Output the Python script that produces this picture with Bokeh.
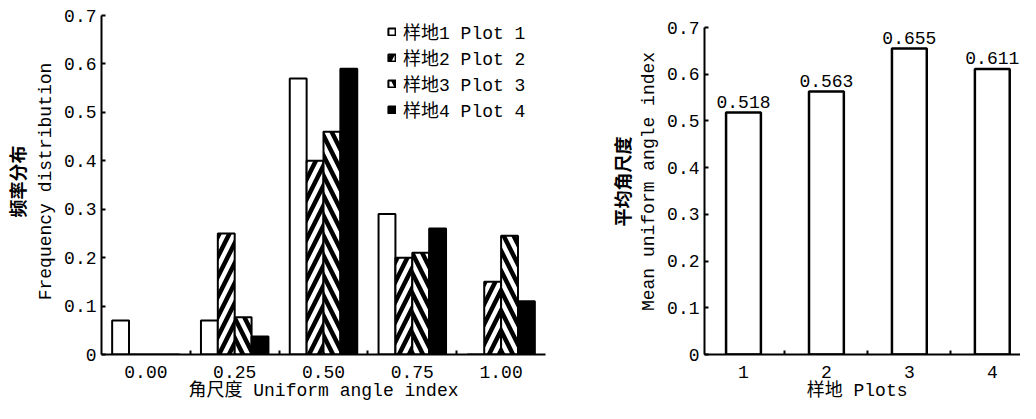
from bokeh.plotting import figure
from bokeh.layouts import row
from bokeh.models import Range1d, FixedTicker, LinearAxis, Legend, LegendItem, ColumnDataSource
from bokeh.transform import dodge
from bokeh.core.properties import value
from bokeh.embed import file_html
from bokeh.resources import INLINE

# ---------------- data ----------------
classes = ["0.00", "0.25", "0.50", "0.75", "1.00"]
plot1 = [0.07, 0.07, 0.57, 0.29, 0.0]
plot2 = [0.0, 0.25, 0.40, 0.20, 0.15]
plot3 = [0.0, 0.077, 0.46, 0.21, 0.245]
plot4 = [0.0, 0.037, 0.59, 0.26, 0.11]
series_labels = ["样地1 Plot 1", "样地2 Plot 2", "样地3 Plot 3", "样地4 Plot 4"]

plots = [1, 2, 3, 4]
mean_index = [0.518, 0.563, 0.655, 0.611]

y_ticks = [0, 0.1, 0.2, 0.3, 0.4, 0.5, 0.6, 0.7]
y_tick_labels = ["0", "0.1", "0.2", "0.3", "0.4", "0.5", "0.6", "0.7"]

FONT = "'Liberation Mono', 'Noto Sans CJK SC'"
CJK = "'Noto Sans CJK SC'"
FS = "18px"


def style_axes(p):
    p.xgrid.visible = False
    p.ygrid.visible = False
    p.outline_line_color = None
    p.background_fill_color = "white"
    p.border_fill_color = "white"
    for ax in p.xaxis + p.yaxis:
        ax.axis_line_color = "black"
        ax.axis_line_width = 2
        ax.major_label_text_font = FONT
        ax.major_label_text_font_size = FS
        ax.major_label_text_color = "black"
        ax.axis_label_text_font = FONT
        ax.axis_label_text_font_size = FS
        ax.axis_label_text_font_style = "normal"
        ax.axis_label_text_color = "black"


# ---------------- left chart ----------------
pos = list(range(len(classes)))
src = ColumnDataSource(dict(pos=pos, p1=plot1, p2=plot2, p3=plot3, p4=plot4))

p1 = figure(width=600, height=403, x_range=Range1d(-0.5, 4.5), y_range=Range1d(0, 0.7145),
            output_backend="svg", toolbar_location=None,
            min_border_left=95, min_border_right=55, min_border_top=8, min_border_bottom=40)

bw = 0.19
hatch = dict(hatch_color="black", hatch_weight=4.5, hatch_scale=20)
common = dict(width=bw, line_color="black", line_width=2, source=src)
r1 = p1.vbar(x=dodge("pos", -1.5 * bw), top="p1", fill_color="white", **common)
r2 = p1.vbar(x=dodge("pos", -0.5 * bw), top="p2", fill_color="white", hatch_pattern="/", **hatch, **common)
r3 = p1.vbar(x=dodge("pos", 0.5 * bw), top="p3", fill_color="white", hatch_pattern="\\", **hatch, **common)
r4 = p1.vbar(x=dodge("pos", 1.5 * bw), top="p4", fill_color="black", **common)

p1.xaxis.ticker = FixedTicker(ticks=pos, minor_ticks=[0.5, 1.5, 2.5, 3.5])
p1.xaxis.major_label_overrides = {i: c for i, c in zip(pos, classes)}
p1.xaxis.major_tick_line_color = None
p1.xaxis.minor_tick_in = 4
p1.xaxis.minor_tick_out = 0
p1.xaxis.minor_tick_line_width = 2
p1.xaxis.major_label_standoff = 5
p1.xaxis.axis_label_standoff = 0
p1.xaxis.axis_label = "角尺度 Uniform angle index"

p1.yaxis.ticker = FixedTicker(ticks=y_ticks)
p1.yaxis.bounds = (0, 0.7)
p1.yaxis.major_label_overrides = {t: l for t, l in zip(y_ticks, y_tick_labels)}
p1.yaxis.major_tick_in = 4
p1.yaxis.major_tick_out = 0
p1.yaxis.major_tick_line_width = 2
p1.yaxis.minor_tick_line_color = None
p1.yaxis.axis_label = "Frequency distribution"

ax_cn1 = LinearAxis(axis_label="频率分布", ticker=FixedTicker(ticks=[]),
                    major_tick_line_color=None, minor_tick_line_color=None,
                    major_label_text_font_size="0px", axis_label_standoff=4)
p1.add_layout(ax_cn1, "left")
style_axes(p1)
ax_cn1.axis_line_color = None
ax_cn1.axis_label_text_font = CJK
ax_cn1.axis_label_text_font_style = "bold"

legend = Legend(items=[LegendItem(label=series_labels[0], renderers=[r1]),
                       LegendItem(label=series_labels[1], renderers=[r2]),
                       LegendItem(label=series_labels[2], renderers=[r3]),
                       LegendItem(label=series_labels[3], renderers=[r4])],
                location=(286, 232), margin=0, padding=0, spacing=0,
                glyph_width=9, glyph_height=9, label_height=20, label_standoff=7,
                label_text_font=FONT, label_text_font_size=FS, label_text_color="black",
                background_fill_alpha=0, border_line_color=None)
p1.add_layout(legend)

# ---------------- right chart ----------------
src2 = ColumnDataSource(dict(x=plots, y=mean_index, lab=[f"{v:.3f}" for v in mean_index]))

p2 = figure(width=420, height=403, x_range=Range1d(0.53, 4.34), y_range=Range1d(0, 0.7408),
            output_backend="svg", toolbar_location=None,
            min_border_left=104, min_border_right=0, min_border_top=8, min_border_bottom=40)
p2.vbar(x="x", top="y", width=0.42, fill_color="white", line_color="black", line_width=2.5, source=src2)
p2.text(x="x", y="y", text="lab", text_align="center", text_baseline="bottom", y_offset=-5,
        text_font=value(FONT), text_font_size=FS, text_color="black", source=src2)

p2.xaxis.ticker = FixedTicker(ticks=plots, minor_ticks=[1.5, 2.5, 3.5])
p2.xaxis.major_tick_line_color = None
p2.xaxis.minor_tick_in = 4
p2.xaxis.minor_tick_out = 0
p2.xaxis.minor_tick_line_width = 2
p2.xaxis.major_label_standoff = 5
p2.xaxis.axis_label_standoff = 0
p2.xaxis.axis_label = "样地  Plots"

p2.yaxis.ticker = FixedTicker(ticks=y_ticks)
p2.yaxis.bounds = (0, 0.7)
p2.yaxis.major_label_overrides = {t: l for t, l in zip(y_ticks, y_tick_labels)}
p2.yaxis.major_tick_in = 4
p2.yaxis.major_tick_out = 0
p2.yaxis.major_tick_line_width = 2
p2.yaxis.minor_tick_line_color = None
p2.yaxis.axis_label = "Mean uniform angle index"

ax_cn2 = LinearAxis(axis_label="平均角尺度", ticker=FixedTicker(ticks=[]),
                    major_tick_line_color=None, minor_tick_line_color=None,
                    major_label_text_font_size="0px", axis_label_standoff=2)
p2.add_layout(ax_cn2, "left")
style_axes(p2)
ax_cn2.axis_line_color = None
ax_cn2.axis_label_text_font = CJK
ax_cn2.axis_label_text_font_style = "bold"

layout = row(p1, p2, spacing=0)
open("out.html", "w").write(file_html(layout, INLINE))
